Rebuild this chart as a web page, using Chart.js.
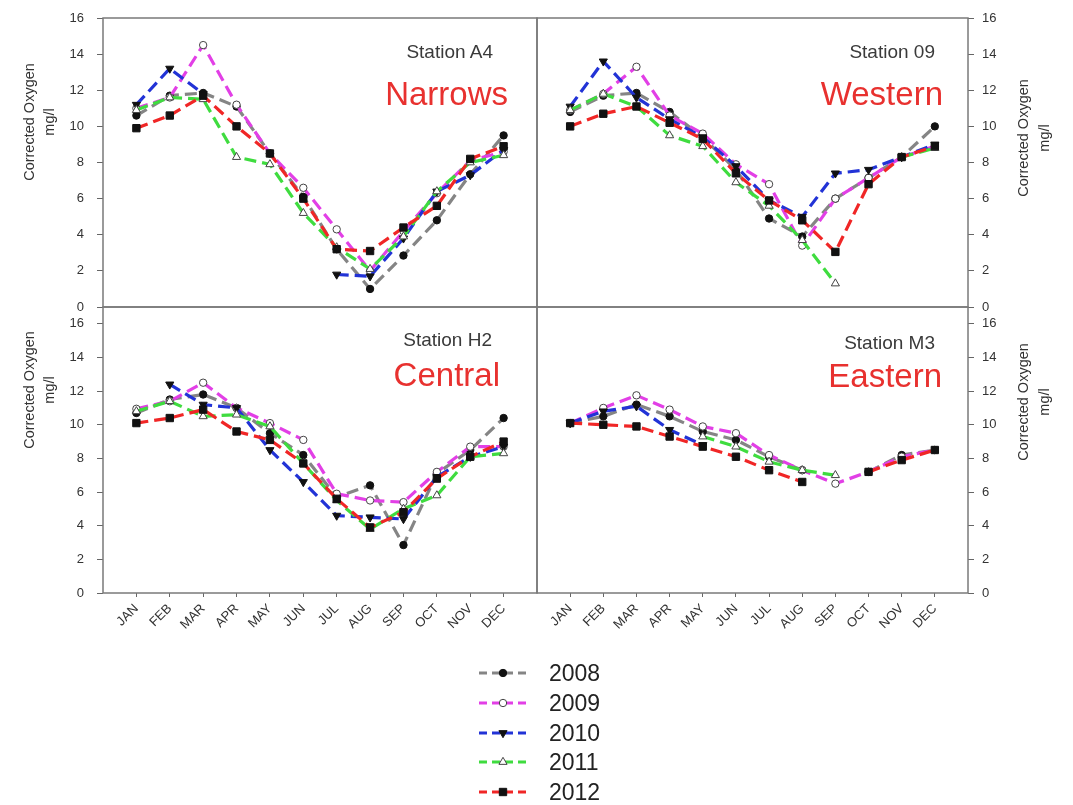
<!DOCTYPE html>
<html>
<head>
<meta charset="utf-8">
<title>Corrected Oxygen by station</title>
<script src="https://cdn.jsdelivr.net/npm/chart.js@4/dist/chart.umd.min.js"></script>
<style>
  html, body { margin: 0; padding: 0; background: #fff; }
  #page { position: relative; width: 1073px; height: 805px; overflow: hidden;
          font-family: "Liberation Sans", Arial, sans-serif; }
  #page canvas { position: absolute; left: 0; top: 0; }
  .txt { position: absolute; white-space: nowrap; line-height: 1; }
  .station { font-size: 19px; color: #3a3a3a; transform: translate(-100%, -50%); }
  .region  { font-size: 33px; color: #e8312f; transform: translate(-100%, -50%); }
  .ytitle  { font-size: 14.5px; color: #333; transform: translate(-50%, -50%) rotate(-90deg); }
  .legend-label { font-size: 23px; color: #222; transform: translateY(-50%); }
</style>
</head>
<body>
<div id="page">
  <canvas id="cNarrows" width="1073" height="805"></canvas>
  <canvas id="cWestern" width="1073" height="805"></canvas>
  <canvas id="cCentral" width="1073" height="805"></canvas>
  <canvas id="cEastern" width="1073" height="805"></canvas>
  <canvas id="cLegend" width="1073" height="805"></canvas>

  <div class="txt station" style="left:493px; top:51px;">Station A4</div>
  <div class="txt region"  style="left:508px; top:93px;">Narrows</div>
  <div class="txt station" style="left:935px; top:51px;">Station 09</div>
  <div class="txt region"  style="left:943px; top:93px;">Western</div>
  <div class="txt station" style="left:492px; top:339px;">Station H2</div>
  <div class="txt region"  style="left:500px; top:374px;">Central</div>
  <div class="txt station" style="left:935px; top:342px;">Station M3</div>
  <div class="txt region"  style="left:942px; top:375px;">Eastern</div>

  <div class="txt ytitle" style="left:29px;   top:122px;">Corrected Oxygen</div>
  <div class="txt ytitle" style="left:49px;   top:122px;">mg/l</div>
  <div class="txt ytitle" style="left:29px;   top:390px;">Corrected Oxygen</div>
  <div class="txt ytitle" style="left:49px;   top:390px;">mg/l</div>
  <div class="txt ytitle" style="left:1023px; top:138px;">Corrected Oxygen</div>
  <div class="txt ytitle" style="left:1044px; top:138px;">mg/l</div>
  <div class="txt ytitle" style="left:1023px; top:402px;">Corrected Oxygen</div>
  <div class="txt ytitle" style="left:1044px; top:402px;">mg/l</div>

  <div id="legendLabels"></div>
</div>

<script>
// ---- categories and tick labels ----
const MONTHS = ['JAN', 'FEB', 'MAR', 'APR', 'MAY', 'JUN', 'JUL', 'AUG', 'SEP', 'OCT', 'NOV', 'DEC'];
const YEARS = ['2008', '2009', '2010', '2011', '2012'];
const Y_TICKS = [0, 2, 4, 6, 8, 10, 12, 14, 16];

// ---- corrected oxygen (mg/l), Station A4 – Narrows ----
const narrows2008 = [10.6, 11.7, 11.85, 11.1, 8.5, 6.1, 3.2, 1.0, 2.85, 4.8, 7.35, 9.5];
const narrows2009 = [11.0, 11.6, 14.5, 11.2, 8.5, 6.6, 4.3, 2.0, 4.2, 6.3, 8.1, 8.6];
const narrows2010 = [11.2, 13.2, 11.8, null, null, null, 1.8, 1.7, 3.8, 6.4, 7.3, 8.7];
const narrows2011 = [10.9, 11.6, 11.5, 8.3, 7.9, 5.2, 3.3, 2.1, 3.9, 6.4, 8.0, 8.4];
const narrows2012 = [9.9, 10.6, 11.7, 10.0, 8.5, 6.0, 3.2, 3.1, 4.4, 5.6, 8.2, 8.9];

// ---- Station 09 – Western ----
const western2008 = [10.8, 11.7, 11.85, 10.8, 9.4, 7.6, 4.9, 3.9, 6.0, 7.15, 8.3, 10.0];
const western2009 = [10.9, 11.8, 13.3, 10.6, 9.6, 7.9, 6.8, 3.4, 6.0, 7.15, 8.3, 8.9];
const western2010 = [11.1, 13.6, 11.6, 10.4, 9.4, 7.8, 5.9, 5.0, 7.4, 7.6, 8.3, 9.0];
const western2011 = [10.9, 11.8, 11.1, 9.5, 8.9, 6.9, 5.6, 3.7, 1.3, null, 8.3, 8.8];
const western2012 = [10.0, 10.7, 11.1, 10.2, 9.3, 7.4, 5.9, 4.8, 3.05, 6.8, 8.3, 8.9];

// ---- Station H2 – Central ----
const central2008 = [10.7, 11.5, 11.8, 11.0, 9.5, 8.2, 5.7, 6.4, 2.85, 7.1, 8.5, 10.4];
const central2009 = [10.95, 11.4, 12.5, 11.0, 10.1, 9.1, 5.9, 5.5, 5.4, 7.2, 8.7, 8.7];
const central2010 = [null, 12.4, 11.2, 11.0, 8.5, 6.6, 4.6, 4.5, 4.4, 6.9, 8.1, 8.7];
const central2011 = [10.8, 11.4, 10.5, 10.6, 9.9, 7.7, 5.5, 3.8, 5.0, 5.8, 8.1, 8.3];
const central2012 = [10.1, 10.4, 10.9, 9.6, 9.1, 7.7, 5.6, 3.9, 4.8, 6.8, 8.1, 9.0];

// ---- Station M3 – Eastern ----
const eastern2008 = [10.1, 10.5, 11.2, 10.5, 9.6, 9.1, 8.1, 7.3, null, 7.2, 8.2, 8.5];
const eastern2009 = [10.1, 11.0, 11.75, 10.9, 9.9, 9.5, 8.2, 7.3, 6.5, 7.2, 8.1, 8.5];
const eastern2010 = [10.1, 10.8, 11.1, 9.7, 8.8, null, null, null, null, null, null, null];
const eastern2011 = [null, null, null, null, 9.3, 8.7, 7.8, 7.3, 7.0, null, null, null];
const eastern2012 = [10.1, 10.0, 9.9, 9.3, 8.7, 8.1, 7.3, 6.6, null, 7.2, 7.9, 8.5];

// ---- series styling (one entry per year) ----
const LINE_COLORS     = ['#858585', '#e23fe6', '#2233d6', '#3fdc3f', '#f02626'];
const MARKER_STYLES   = ['circle', 'circle', 'triangle', 'triangle', 'rect'];
const MARKER_ROTATION = [0, 0, 180, 0, 0];
const MARKER_RADIUS   = [3.7, 3.7, 4.7, 4.7, 5.2];
const MARKER_FILL     = ['#111', '#fff', '#111', '#fff', '#111'];
const MARKER_EDGE     = ['#111', '#444', '#111', '#444', '#111'];
const LINE_DASH = [12, 6];

const PAGE_W = 1073, PAGE_H = 805;
const Y_AXIS_W = 40, X_AXIS_H = 50;

// Outline of each plot area; neighbouring panels share their edges.
const framePlugin = {
  id: 'panelFrame',
  afterDraw(chart) {
    const a = chart.chartArea, ctx = chart.ctx;
    ctx.save();
    ctx.strokeStyle = '#7a7a7a';
    ctx.lineWidth = 1.5;
    ctx.setLineDash([]);
    ctx.strokeRect(a.left, a.top, a.right - a.left, a.bottom - a.top);
    ctx.restore();
  }
};

function zeroPadding(s) {
  s.paddingLeft = 0; s.paddingRight = 0; s.paddingTop = 0; s.paddingBottom = 0;
}

function buildPanel(p) {
  const xH = p.xLabels ? X_AXIS_H : 0;
  const pad = p.yPos === 'left'
    ? { left: p.area.l - Y_AXIS_W, right: PAGE_W - p.area.r, top: p.area.t, bottom: PAGE_H - p.area.b - xH }
    : { left: p.area.l, right: PAGE_W - p.area.r - Y_AXIS_W, top: p.area.t, bottom: PAGE_H - p.area.b - xH };

  const datasets = YEARS.map((yr, k) => ({
    label: yr,
    data: p.series[k].map((v, i) => ({ x: i, y: v })),
    borderColor: LINE_COLORS[k],
    backgroundColor: LINE_COLORS[k],
    borderWidth: 3.2,
    borderDash: LINE_DASH,
    tension: 0,
    fill: false,
    spanGaps: false,
    pointStyle: MARKER_STYLES[k],
    pointRotation: MARKER_ROTATION[k],
    pointRadius: MARKER_RADIUS[k],
    pointBackgroundColor: MARKER_FILL[k],
    pointBorderColor: MARKER_EDGE[k],
    pointBorderWidth: 1,
    order: YEARS.length - k
  }));

  return new Chart(document.getElementById(p.id), {
    type: 'line',
    data: { datasets },
    options: {
      responsive: false,
      animation: false,
      devicePixelRatio: 1,
      events: [],
      layout: { padding: pad },
      plugins: { legend: { display: false }, tooltip: { enabled: false } },
      scales: {
        x: {
          type: 'linear',
          min: -1,
          max: MONTHS.length,
          display: p.xLabels,
          afterBuildTicks: s => { s.ticks = MONTHS.map((m, i) => ({ value: i })); },
          afterFit: s => { s.height = xH; zeroPadding(s); },
          grid: { drawOnChartArea: false, drawTicks: true, tickLength: 4, color: '#666', lineWidth: 1 },
          border: { display: false },
          ticks: {
            autoSkip: false,
            minRotation: 45,
            maxRotation: 45,
            padding: 4,
            color: '#333',
            font: { size: 13 },
            callback: v => MONTHS[v] ?? ''
          }
        },
        y: {
          type: 'linear',
          position: p.yPos,
          min: 0,
          max: p.yMax,
          afterBuildTicks: s => { s.ticks = Y_TICKS.map(v => ({ value: v })); },
          afterFit: s => { s.width = Y_AXIS_W; zeroPadding(s); },
          grid: { drawOnChartArea: false, drawTicks: true, tickLength: 6, color: '#666', lineWidth: 1 },
          border: { display: false },
          ticks: { padding: p.yPos === 'left' ? 13 : 8, color: '#333', font: { size: 13 } }
        }
      }
    },
    plugins: [framePlugin]
  });
}

Chart.defaults.font.family = '"Liberation Sans", Arial, sans-serif';

const PANELS = [
  { id: 'cNarrows', series: [narrows2008, narrows2009, narrows2010, narrows2011, narrows2012],
    area: { l: 103, t: 18, r: 537, b: 307 }, yMax: 16, yPos: 'left', xLabels: false },
  { id: 'cWestern', series: [western2008, western2009, western2010, western2011, western2012],
    area: { l: 537, t: 18, r: 968, b: 307 }, yMax: 16, yPos: 'right', xLabels: false },
  { id: 'cCentral', series: [central2008, central2009, central2010, central2011, central2012],
    area: { l: 103, t: 307, r: 537, b: 593 }, yMax: 17, yPos: 'left', xLabels: true },
  { id: 'cEastern', series: [eastern2008, eastern2009, eastern2010, eastern2011, eastern2012],
    area: { l: 537, t: 307, r: 968, b: 593 }, yMax: 17, yPos: 'right', xLabels: true }
];
PANELS.forEach(buildPanel);

// ---- legend below the panels ----
const LEGEND_X0 = 479, LEGEND_X1 = 526, LEGEND_MARK_X = 503, LEGEND_TEXT_X = 549;
const LEGEND_Y = [673, 703, 733, 762, 792];

function drawMarker(ctx, k, x, y) {
  const r = MARKER_RADIUS[k];
  ctx.save();
  ctx.setLineDash([]);
  ctx.lineWidth = 1;
  ctx.fillStyle = MARKER_FILL[k];
  ctx.strokeStyle = MARKER_EDGE[k];
  ctx.beginPath();
  if (MARKER_STYLES[k] === 'circle') {
    ctx.arc(x, y, r, 0, Math.PI * 2);
  } else if (MARKER_STYLES[k] === 'rect') {
    const s = r * Math.SQRT1_2;
    ctx.rect(x - s, y - s, 2 * s, 2 * s);
  } else {
    let a = MARKER_ROTATION[k] * Math.PI / 180;
    for (let j = 0; j < 3; j++) {
      const px = x + Math.sin(a) * r, py = y - Math.cos(a) * r;
      if (j === 0) ctx.moveTo(px, py); else ctx.lineTo(px, py);
      a += Math.PI * 2 / 3;
    }
    ctx.closePath();
  }
  ctx.fill();
  ctx.stroke();
  ctx.restore();
}

(function drawLegend() {
  const ctx = document.getElementById('cLegend').getContext('2d');
  const holder = document.getElementById('legendLabels');
  YEARS.forEach((yr, k) => {
    const y = LEGEND_Y[k];
    ctx.save();
    ctx.strokeStyle = LINE_COLORS[k];
    ctx.lineWidth = 3;
    ctx.setLineDash([8, 5]);
    ctx.beginPath();
    ctx.moveTo(LEGEND_X0, y);
    ctx.lineTo(LEGEND_X1, y);
    ctx.stroke();
    ctx.restore();
    drawMarker(ctx, k, LEGEND_MARK_X, y);

    const lab = document.createElement('div');
    lab.className = 'txt legend-label';
    lab.style.left = LEGEND_TEXT_X + 'px';
    lab.style.top = y + 'px';
    lab.textContent = yr;
    holder.appendChild(lab);
  });
})();
</script>
</body>
</html>
